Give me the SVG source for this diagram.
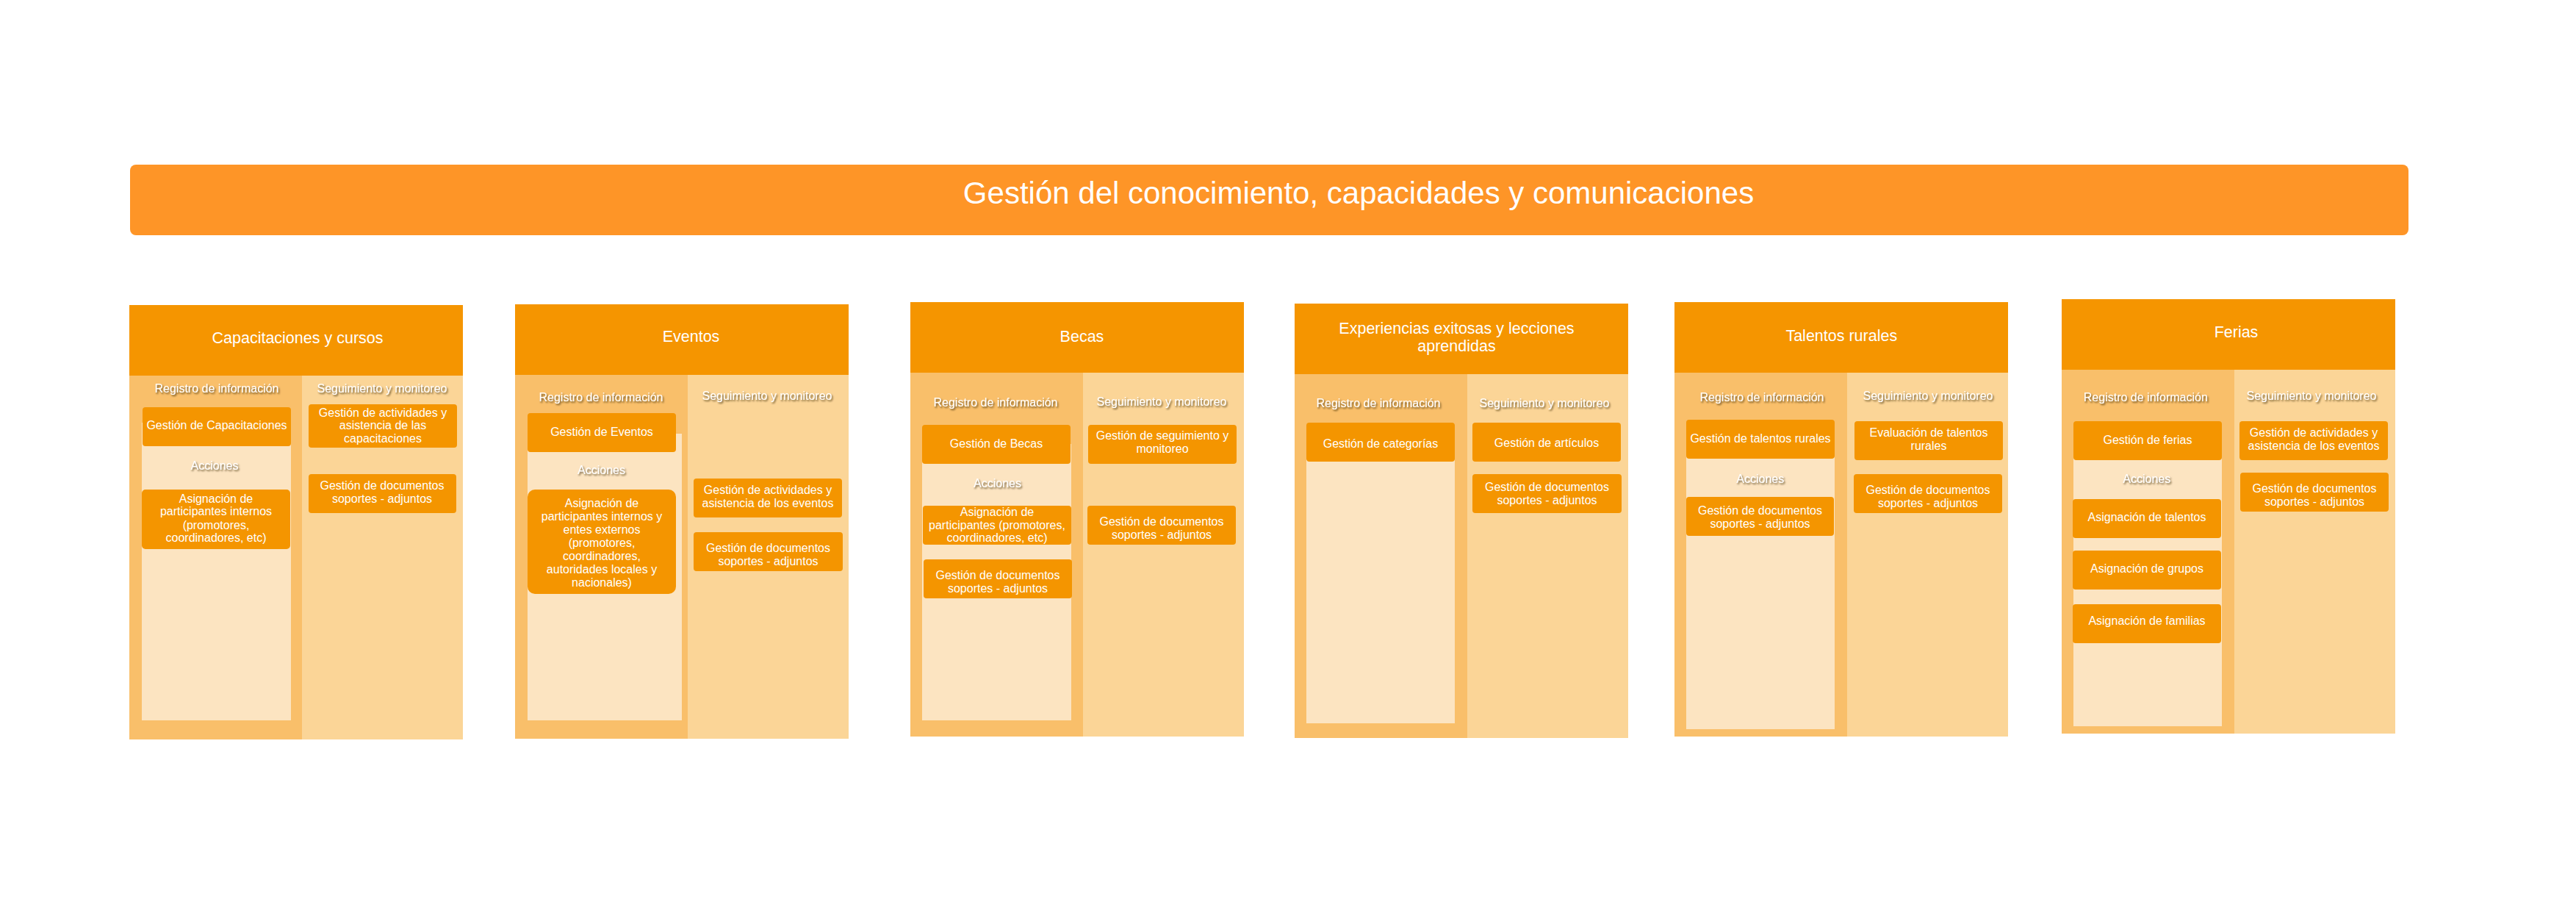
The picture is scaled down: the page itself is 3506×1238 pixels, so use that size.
<svg xmlns="http://www.w3.org/2000/svg" width="3506" height="1238" viewBox="0 0 3506 1238">
<defs>
<filter id="sh" x="-10%" y="-50%" width="120%" height="200%">
<feDropShadow dx="1.5" dy="2" stdDeviation="1.3" flood-color="#3a2608" flood-opacity="0.75"/>
</filter>
</defs>
<style>
text{font-family:"Liberation Sans",Arial,Helvetica,sans-serif;fill:#fff;text-anchor:middle}
.title{font-size:42px}
.ph{font-size:21.5px}
.lbl{font-size:16px;filter:url(#sh)}
.nt{font-size:16px}
.bar{fill:#FE9527}
.hdr{fill:#F59500}
.colL{fill:#F9BF6A}
.colR{fill:#FBD597}
.inner{fill:#FCE4C1}
.node{fill:#F49500}
</style>
<rect width="3506" height="1238" fill="#fff"/>
<g id="title">
<rect class="bar" x="177" y="224" width="3101" height="96" rx="8"/>
<text class="title" x="1849" y="277">Gestión del conocimiento, capacidades y comunicaciones</text>
</g>
<g id="connectors"/>

<g id="panel-capacitaciones">
<rect class="colL" x="176" y="415" width="235" height="591"/>
<rect class="colR" x="411" y="415" width="219" height="591"/>
<rect class="hdr" x="176" y="415" width="454" height="96"/>
<text class="ph" x="405" y="466.7">Capacitaciones y cursos</text>
<rect class="inner" x="193" y="575" width="203" height="405"/>
<text class="lbl" x="295" y="534.3">Registro de información</text>
<text class="lbl" x="520" y="534.3">Seguimiento y monitoreo</text>
<g id="cap-gestion"><rect class="node" x="194" y="554" width="202" height="53" rx="4"/><text class="nt" x="295" y="584.3">Gestión de Capacitaciones</text></g>
<text class="lbl" x="292" y="639.3">Acciones</text>
<g id="cap-asignacion"><rect class="node" x="193" y="666" width="202" height="81" rx="5"/><text class="nt" x="294" y="683.6">Asignación de</text><text class="nt" x="294" y="701.4">participantes internos</text><text class="nt" x="294" y="719.6">(promotores,</text><text class="nt" x="294" y="737.4">coordinadores, etc)</text></g>
<g id="cap-actividades"><rect class="node" x="420" y="550" width="202" height="59" rx="4"/><text class="nt" x="521" y="566.7">Gestión de actividades y</text><text class="nt" x="521" y="584.3">asistencia de las</text><text class="nt" x="521" y="602">capacitaciones</text></g>
<g id="cap-documentos"><rect class="node" x="420" y="645" width="201" height="53" rx="4"/><text class="nt" x="520" y="666.2">Gestión de documentos</text><text class="nt" x="520" y="684.4">soportes - adjuntos</text></g>
</g>

<g id="panel-eventos">
<rect class="colL" x="701" y="414" width="235" height="591"/>
<rect class="colR" x="936" y="414" width="219" height="591"/>
<rect class="hdr" x="701" y="414" width="454" height="96"/>
<text class="ph" x="940.5" y="465.3">Eventos</text>
<rect class="inner" x="718" y="590" width="210" height="390"/>
<text class="lbl" x="818" y="545.6">Registro de información</text>
<text class="lbl" x="1044" y="544.4">Seguimiento y monitoreo</text>
<g id="ev-gestion"><rect class="node" x="718" y="562" width="202" height="53" rx="4"/><text class="nt" x="819" y="592.7">Gestión de Eventos</text></g>
<text class="lbl" x="818.5" y="645.3">Acciones</text>
<g id="ev-asignacion"><rect class="node" x="718" y="666" width="202" height="142" rx="10"/><text class="nt" x="819" y="690">Asignación de</text><text class="nt" x="819" y="707.8">participantes internos y</text><text class="nt" x="819" y="726">entes externos</text><text class="nt" x="819" y="743.8">(promotores,</text><text class="nt" x="819" y="762">coordinadores,</text><text class="nt" x="819" y="779.8">autoridades locales y</text><text class="nt" x="819" y="798">nacionales)</text></g>
<g id="ev-actividades"><rect class="node" x="944" y="651" width="202" height="53" rx="4"/><text class="nt" x="1045" y="672.2">Gestión de actividades y</text><text class="nt" x="1045" y="690">asistencia de los eventos</text></g>
<g id="ev-documentos"><rect class="node" x="944" y="724" width="203" height="53" rx="4"/><text class="nt" x="1045.5" y="750.9">Gestión de documentos</text><text class="nt" x="1045.5" y="769.1">soportes - adjuntos</text></g>
</g>

<g id="panel-becas">
<rect class="colL" x="1239" y="411" width="235" height="591"/>
<rect class="colR" x="1474" y="411" width="219" height="591"/>
<rect class="hdr" x="1239" y="411" width="454" height="96"/>
<text class="ph" x="1472.5" y="465.3">Becas</text>
<rect class="inner" x="1255" y="604" width="203" height="376"/>
<text class="lbl" x="1355" y="553.1">Registro de información</text>
<text class="lbl" x="1581" y="552.3">Seguimiento y monitoreo</text>
<g id="be-gestion"><rect class="node" x="1255" y="578" width="202" height="53" rx="4"/><text class="nt" x="1356" y="608.9">Gestión de Becas</text></g>
<text class="lbl" x="1357.5" y="663.1">Acciones</text>
<g id="be-asignacion"><rect class="node" x="1256" y="688" width="202" height="53" rx="4"/><text class="nt" x="1357" y="701.8">Asignación de</text><text class="nt" x="1357" y="719.6">participantes (promotores,</text><text class="nt" x="1357" y="737.4">coordinadores, etc)</text></g>
<g id="be-documentos-l"><rect class="node" x="1257" y="761" width="202" height="53" rx="4"/><text class="nt" x="1358" y="787.7">Gestión de documentos</text><text class="nt" x="1358" y="805.9">soportes - adjuntos</text></g>
<g id="be-seguimiento"><rect class="node" x="1481" y="578" width="202" height="53" rx="4"/><text class="nt" x="1582" y="597.8">Gestión de seguimiento y</text><text class="nt" x="1582" y="615.6">monitoreo</text></g>
<g id="be-documentos-r"><rect class="node" x="1480" y="688" width="202" height="53" rx="4"/><text class="nt" x="1581" y="714.5">Gestión de documentos</text><text class="nt" x="1581" y="732.7">soportes - adjuntos</text></g>
</g>

<g id="panel-experiencias">
<rect class="colL" x="1762" y="413" width="235" height="591"/>
<rect class="colR" x="1997" y="413" width="219" height="591"/>
<rect class="hdr" x="1762" y="413" width="454" height="96"/>
<text class="ph" x="1982.5" y="454.2">Experiencias exitosas y lecciones</text>
<text class="ph" x="1982.5" y="478.3">aprendidas</text>
<rect class="inner" x="1778" y="600" width="202" height="384"/>
<text class="lbl" x="1876" y="554.3">Registro de información</text>
<text class="lbl" x="2102" y="553.5">Seguimiento y monitoreo</text>
<g id="ex-categorias"><rect class="node" x="1778" y="575" width="202" height="53" rx="4"/><text class="nt" x="1879" y="608.5">Gestión de categorías</text></g>
<g id="ex-articulos"><rect class="node" x="2004" y="575" width="202" height="53" rx="4"/><text class="nt" x="2105" y="607.7">Gestión de artículos</text></g>
<g id="ex-documentos"><rect class="node" x="2004" y="645" width="203" height="53" rx="4"/><text class="nt" x="2105.5" y="668.2">Gestión de documentos</text><text class="nt" x="2105.5" y="686.4">soportes - adjuntos</text></g>
</g>

<g id="panel-talentos">
<rect class="colL" x="2279" y="411" width="235" height="591"/>
<rect class="colR" x="2514" y="411" width="219" height="591"/>
<rect class="hdr" x="2279" y="411" width="454" height="96"/>
<text class="ph" x="2506.3" y="464.1">Talentos rurales</text>
<rect class="inner" x="2295" y="598" width="202" height="394"/>
<text class="lbl" x="2398" y="545.6">Registro de información</text>
<text class="lbl" x="2624" y="544.4">Seguimiento y monitoreo</text>
<g id="ta-gestion"><rect class="node" x="2295" y="571" width="202" height="53" rx="4"/><text class="nt" x="2396" y="601.8">Gestión de talentos rurales</text></g>
<text class="lbl" x="2395.8" y="657.1">Acciones</text>
<g id="ta-documentos-l"><rect class="node" x="2295" y="676" width="201" height="53" rx="4"/><text class="nt" x="2395.5" y="699.9">Gestión de documentos</text><text class="nt" x="2395.5" y="718.1">soportes - adjuntos</text></g>
<g id="ta-evaluacion"><rect class="node" x="2524" y="573" width="202" height="53" rx="4"/><text class="nt" x="2625" y="593.8">Evaluación de talentos</text><text class="nt" x="2625" y="611.6">rurales</text></g>
<g id="ta-documentos-r"><rect class="node" x="2523" y="645" width="202" height="53" rx="4"/><text class="nt" x="2624" y="672.2">Gestión de documentos</text><text class="nt" x="2624" y="690">soportes - adjuntos</text></g>
</g>

<g id="panel-ferias">
<rect class="colL" x="2806" y="407" width="235" height="591"/>
<rect class="colR" x="3041" y="407" width="219" height="591"/>
<rect class="hdr" x="2806" y="407" width="454" height="96"/>
<text class="ph" x="3043.5" y="458.5">Ferias</text>
<rect class="inner" x="2822" y="600" width="202" height="388"/>
<text class="lbl" x="2920.3" y="545.6">Registro de información</text>
<text class="lbl" x="3146" y="544.4">Seguimiento y monitoreo</text>
<g id="fe-gestion"><rect class="node" x="2822" y="573" width="202" height="53" rx="4"/><text class="nt" x="2923" y="603.7">Gestión de ferias</text></g>
<text class="lbl" x="2921.8" y="657.1">Acciones</text>
<g id="fe-talentos"><rect class="node" x="2821" y="679" width="202" height="53" rx="4"/><text class="nt" x="2922" y="708.6">Asignación de talentos</text></g>
<g id="fe-grupos"><rect class="node" x="2821" y="749" width="202" height="53" rx="4"/><text class="nt" x="2922" y="779">Asignación de grupos</text></g>
<g id="fe-familias"><rect class="node" x="2821" y="822" width="202" height="53" rx="4"/><text class="nt" x="2922" y="849.5">Asignación de familias</text></g>
<g id="fe-actividades"><rect class="node" x="3048" y="573" width="202" height="53" rx="4"/><text class="nt" x="3149" y="593.8">Gestión de actividades y</text><text class="nt" x="3149" y="611.6">asistencia de los eventos</text></g>
<g id="fe-documentos"><rect class="node" x="3049" y="643" width="202" height="53" rx="4"/><text class="nt" x="3150" y="670.2">Gestión de documentos</text><text class="nt" x="3150" y="688">soportes - adjuntos</text></g>
</g>
</svg>
